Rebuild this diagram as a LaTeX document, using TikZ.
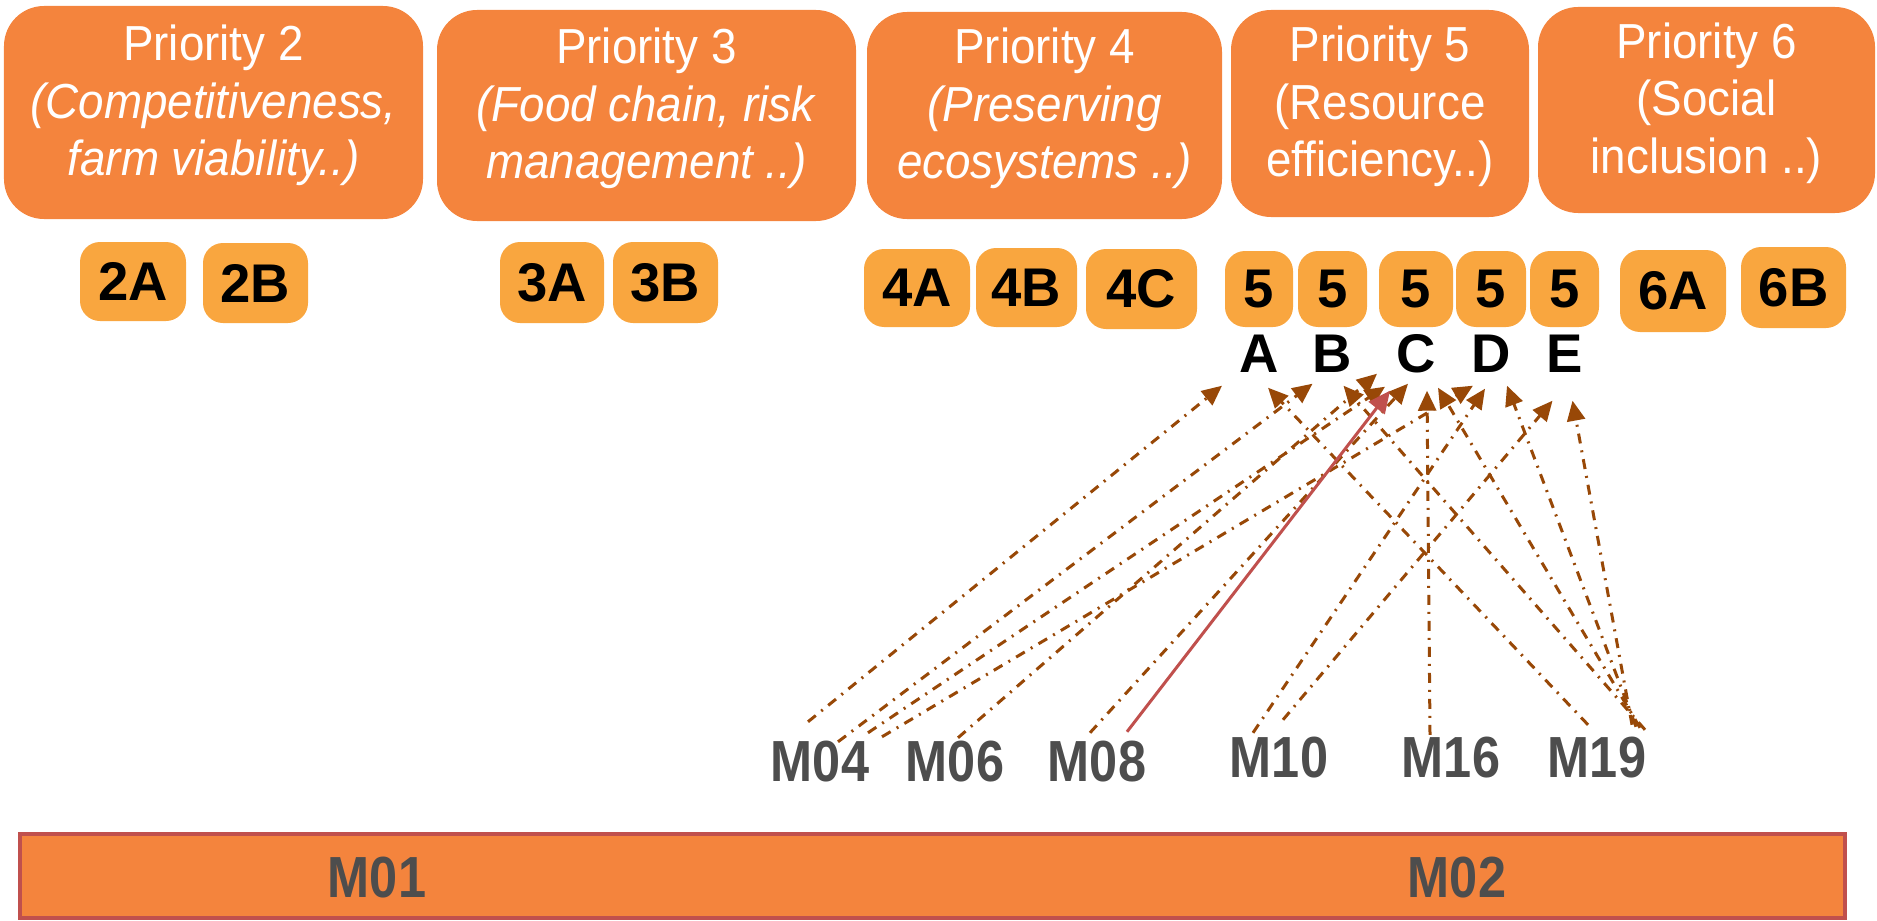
\documentclass[tikz,border=0pt]{standalone}
\usepackage{fontspec}
\usepackage{tikz}
\usetikzlibrary{calc,arrows.meta}
\setmainfont{Liberation Sans}
\newfontfamily\prfont{Liberation Sans}[FakeStretch=0.93]
\newfontfamily\mfont{Liberation Sans}[FakeStretch=0.87]
\definecolor{prioOrange}{HTML}{F4843D}
\definecolor{focusOrange}{HTML}{F9A63F}
\definecolor{barRed}{HTML}{C0504D}
\definecolor{linkBrown}{HTML}{984807}
\definecolor{mGray}{HTML}{4D4D4D}
\tikzset{
  prioBox/.style={fill=prioOrange, rounded corners=0.4cm, inner sep=0},
  prioText/.style={text=white, align=center, inner sep=0,
    font=\prfont\fontsize{14}{16.3}\selectfont},
  focusBox/.style={fill=focusOrange, rounded corners=0.2cm, inner sep=0,
    font=\bfseries\fontsize{15.5}{18}\selectfont},
  letterLabel/.style={inner sep=0, minimum height=0.64cm, font=\bfseries\fontsize{15.5}{18}\selectfont},
  mLabel/.style={inner sep=0, text=mGray, font=\mfont\bfseries\fontsize{16.5}{19}\selectfont},
  dashArrow/.style={draw=linkBrown, line width=0.03cm,
    dash pattern=on 0.1cm off 0.07cm on 0.02cm off 0.07cm,
    -{Triangle[length=0.2cm,width=0.18cm]}},
  redArrow/.style={draw=barRed, line width=0.03cm, -{Triangle[length=0.22cm,width=0.2cm]}}
}
\newcommand{\prio}[6]{
  \node[prioBox, minimum width=#4cm, minimum height=#5cm] (#1) at (#2,#3) {};% Priority box
  \node[prioText] (#1t) at ($(#1)+(0,0.07)$) {#6};
}

\begin{document}
\begin{tikzpicture}
  \useasboundingbox (0,0) rectangle (18.77,9.2);

  \prio{p2}{2.135}{8.075}{4.19}{2.13}{Priority 2\\\textit{(Competitiveness,}\\\textit{farm viability..)}}
  \prio{p3}{6.465}{8.045}{4.19}{2.11}{Priority 3\\\textit{(Food chain, risk}\\\textit{management ..)}}
  \prio{p4}{10.445}{8.045}{3.55}{2.07}{Priority 4\\\textit{(Preserving}\\\textit{ecosystems ..)}}
  \prio{p5}{13.80}{8.065}{2.98}{2.07}{Priority 5\\(Resource\\efficiency..)}
  \prio{p6}{17.065}{8.10}{3.37}{2.06}{Priority 6\\(Social\\inclusion ..)}

  % focus areas
  \foreach \name/\x/\y/\w/\h in {2A/1.33/6.385/1.06/0.79, 2B/2.555/6.37/1.05/0.80,
      3A/5.52/6.375/1.04/0.81, 3B/6.655/6.375/1.05/0.81,
      4A/9.17/6.32/1.06/0.78, 4B/10.265/6.325/1.01/0.79, 4C/11.415/6.31/1.11/0.80,
      6A/16.73/6.29/1.06/0.82, 6B/17.935/6.325/1.05/0.81} {
    \node[focusBox, minimum width=\w cm, minimum height=\h cm] (f\name) at (\x,\y) {\name};
  }
  \foreach \l/\x/\w in {A/12.59/0.68, B/13.325/0.69, C/14.16/0.74, D/14.91/0.70, E/15.645/0.69} {
    \node[focusBox, minimum width=\w cm, minimum height=0.76cm] (f5\l) at (\x,6.31) {5};
    \node[letterLabel] (l\l) at (\x,5.66) {\l};
  }

  % measures
  \node[mLabel] (m04) at (8.20,1.58) {M04};
  \node[mLabel] (m06) at (9.55,1.58) {M06};
  \node[mLabel] (m08) at (10.97,1.58) {M08};
  \node[mLabel] (m10) at (12.79,1.62) {M10};
  \node[mLabel] (m16) at (14.51,1.62) {M16};
  \node[mLabel] (m19) at (15.97,1.62) {M19};

  \node[fill=prioOrange, draw=barRed, line width=0.04cm, inner sep=0,
    minimum width=18.25cm, minimum height=0.84cm] (bar) at (9.325,0.44) {};
  \node[mLabel] (m01) at (3.77,0.42) {M01};
  \node[mLabel] (m02) at (14.57,0.42) {M02};

  % links to focus areas 5A-5E
  \foreach \m/\mx/\my/\l/\lx/\ly in {
      04/-0.12/0.19/A/-0.37/0.01, 04/0.18/-0.01/B/-0.20/0.03,
      04/0.48/0.08/C/-0.31/0.0, 04/0.62/0.04/D/-0.18/0.01,
      06/0.03/0.03/C/-0.39/0.13, 08/-0.07/0.08/C/-0.08/0.03,
      10/-0.26/0.04/D/-0.06/-0.02, 10/0.04/0.17/E/-0.12/-0.14,
      16/-0.21/0.02/C/0.11/-0.04,
      19/-0.09/0.12/A/0.09/-0.01, 19/0.48/0.07/B/0.11/0.01,
      19/0.43/0.09/C/0.22/-0.01, 19/0.39/0.10/D/0.16/0.01,
      19/0.35/0.12/E/0.08/-0.14} {
    \draw[dashArrow] ($(m\m.north)+(\mx,\my)$) -- ($(l\l.south)+(\lx,\ly)$);
  }
  \draw[redArrow] ($(m08.north)+(0.30,0.09)$) -- ($(lC.south)+(-0.26,-0.04)$);
\end{tikzpicture}
\end{document}
